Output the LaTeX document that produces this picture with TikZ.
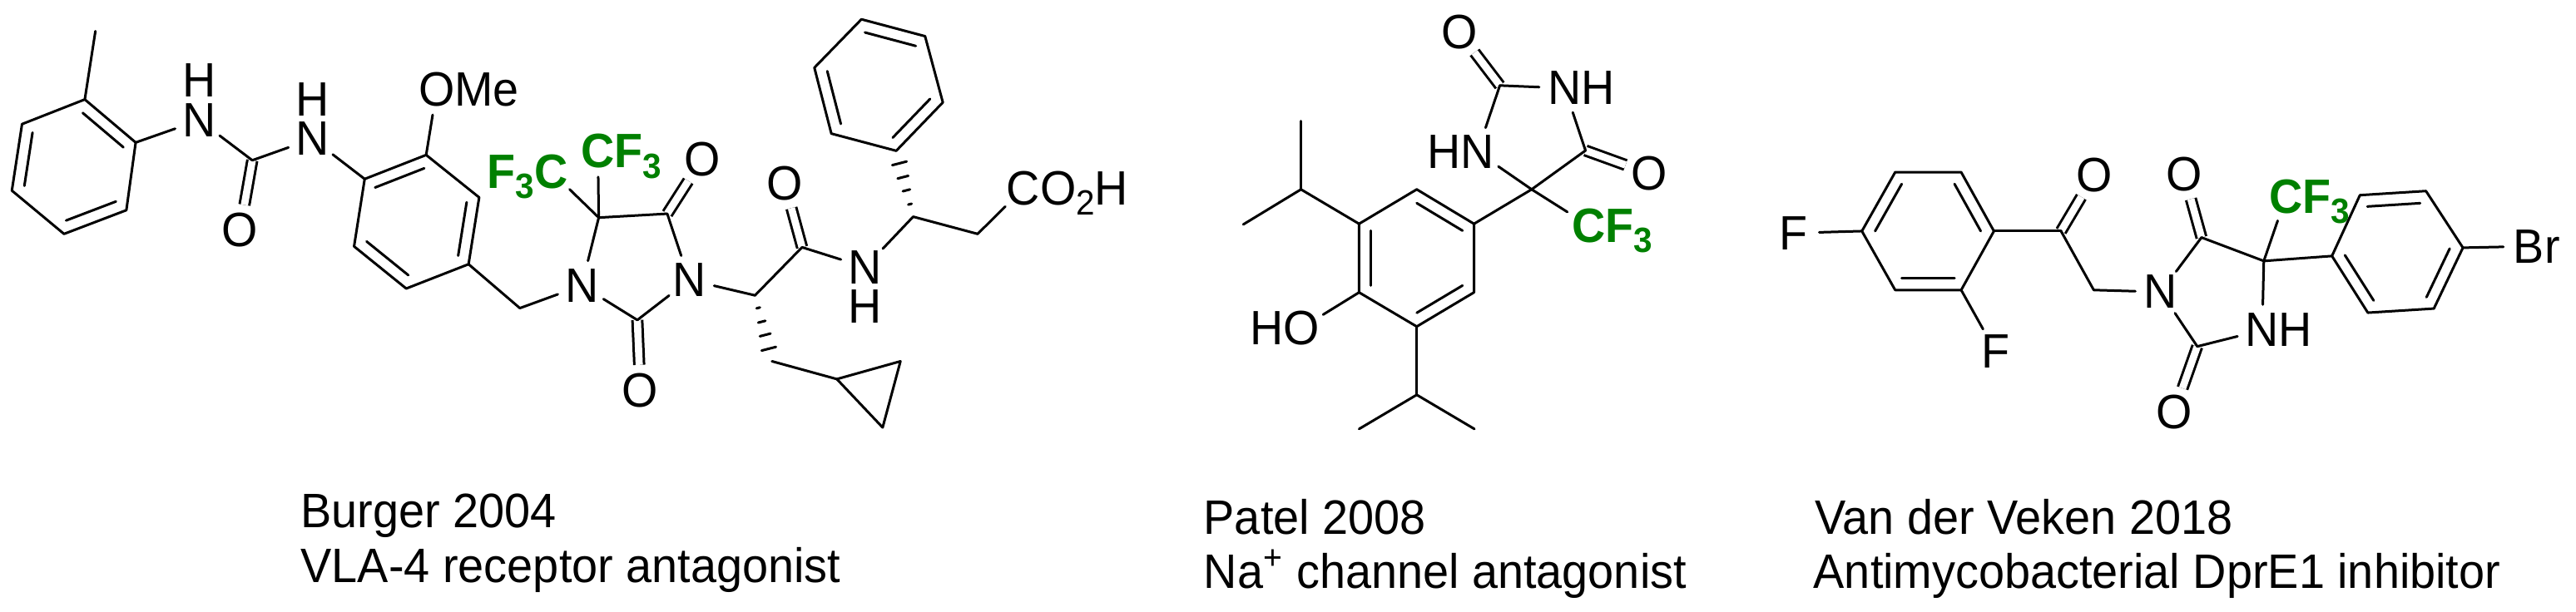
\documentclass[tikz,border=0pt]{standalone}
\usepackage{fontspec}
\setmainfont[FakeStretch=0.96]{Liberation Sans}
\usetikzlibrary{calc}
\definecolor{cfgreen}{RGB}{0,128,0}
\newcommand{\subnum}[1]{\raisebox{-3.5pt}{\fontsize{12pt}{12pt}\selectfont #1}}
\newcommand{\hover}[1]{#1\llap{\smash{\raisebox{13.5pt}{H}}}}
\newcommand{\aromring}[6]{%
  \coordinate (ctr#1) at ($(#1)!.5!(#4)$);
  \draw[bond] (#1)--(#2)--(#3)--(#4)--(#5)--(#6)--cycle;
  \draw[bond] ($(#1)!.2!(ctr#1)$) -- ($(#2)!.2!(ctr#1)$);
  \draw[bond] ($(#3)!.2!(ctr#1)$) -- ($(#4)!.2!(ctr#1)$);
  \draw[bond] ($(#5)!.2!(ctr#1)$) -- ($(#6)!.2!(ctr#1)$);
}
\newcommand{\hashbond}[2]{%
  \foreach \t in {.19,.40,.60,.81}{
    \draw[bond] ($(#1)!\t!(#2)!{\t*3.13pt}!90:(#2)$) -- ($(#1)!\t!(#2)!{\t*3.13pt}!-90:(#2)$);
  }%
}
\tikzset{
  bond/.style={line width=0.03cm,line cap=round,line join=round,black},
  dbond/.style={line width=0.03cm,line cap=butt,double=white,double distance=0.087cm,black},
  atom/.style={circle,inner sep=0pt,minimum size=0.6cm,text height=11.3pt,text depth=0pt,
    font=\fontsize{16.5pt}{18pt}\selectfont,text=black},
  atomg/.style={atom,font=\fontsize{16.5pt}{18pt}\selectfont\bfseries,text=cfgreen},
  caption/.style={anchor=base west,inner sep=0pt,font=\fontsize{16.55pt}{18pt}\selectfont,text=black},
  zoomwide/.style={x=0.005102cm,y=-0.003571cm},
  zoomlast/.style={x=0.006353cm,y=-0.003333cm},
}
\begin{document}
\begin{tikzpicture}
\useasboundingbox (0,0) rectangle (30.96,-7.36);
\fill[white] (0,0) rectangle (30.96,-7.36);

% ---------- molecule 1, left part
\begin{scope}[shift={(0cm,0cm)},zoomwide]
\coordinate (a1) at (200,335); \coordinate (a2) at (320,480); \coordinate (a3) at (298,708);
\coordinate (a4) at (151,788); \coordinate (a5) at (28,642); \coordinate (a6) at (52,418);
\coordinate (me) at (225,105);
\coordinate (cu) at (595,540);
\coordinate (b1) at (860,603); \coordinate (b2) at (1005,522); \coordinate (b3) at (1130,665);
\coordinate (b4) at (1105,890); \coordinate (b5) at (958,972); \coordinate (b6) at (835,830);
\coordinate (d) at (1226,1038);
\coordinate (q) at (1412,733);
\coordinate (c2) at (1503,1078);
\node[atom] (N1) at (470,405) {\hover{N}};
\node[atom] (N2) at (737,468) {\hover{N}};
\node[atom] (O1) at (566,775) {O};
\node[atom] (OMe) at (1030,302) {O\rlap{Me}};
\node[atom] (N3) at (1372,962) {N};
\node[atom] (O2) at (1510,1315) {O};
\node[atomg] (CFa) at (1300,578) {\llap{\smash{F\subnum{3}}}C};
\node[atomg] (CFb) at (1410,510) {C\rlap{\smash{F\subnum{3}}}};
\end{scope}

% ---------- molecule 1, right part
\begin{scope}[shift={(7cm,0cm)},zoomwide]
\coordinate (c4) at (200,720);
\coordinate (al) at (407,995);
\coordinate (am) at (518,833);
\coordinate (ch) at (780,730);
\coordinate (chb) at (932,788);
\coordinate (p1) at (740,508); \coordinate (p2) at (850,345); \coordinate (p3) at (808,122);
\coordinate (p4) at (658,65); \coordinate (p5) at (547,228); \coordinate (p6) at (587,450);
\coordinate (cpm) at (447,1217);
\coordinate (cp1) at (600,1277); \coordinate (cp2) at (750,1217); \coordinate (cp3) at (708,1440);
\node[atom] (O3) at (282,537) {O};
\node[atom] (N4) at (252,943) {N};
\node[atom] (O4) at (477,618) {O};
\node[atom] (N5) at (667,900) {N\llap{\smash{\raisebox{-13.4pt}{H}}}};
\node[atom] (COOH) at (1040,635) {C\rlap{\smash{O\subnum{2}H}}};
\end{scope}

% ---------- molecule 2
\begin{scope}[shift={(14cm,0cm)},zoomwide]
\coordinate (r1) at (594,638); \coordinate (r2) at (729,754); \coordinate (r3) at (729,985);
\coordinate (r4) at (594,1100); \coordinate (r5) at (458,985); \coordinate (r6) at (458,754);
\coordinate (ipa) at (321,638); \coordinate (ipb) at (321,408); \coordinate (ipc) at (185,756);
\coordinate (ipd) at (594,1330); \coordinate (ipe) at (458,1445); \coordinate (ipf) at (730,1445);
\coordinate (qb) at (865,638);
\coordinate (cf) at (992,507);
\coordinate (cg) at (790,288);
\node[atom] (OH) at (322,1105) {\llap{H}O};
\node[atomg] (CFc) at (1000,760) {C\rlap{\smash{F\subnum{3}}}};
\node[atom] (N6) at (737,512) {\llap{H}N};
\node[atom] (N7) at (943,297) {N\rlap{H}};
\node[atom] (O5) at (1143,585) {O};
\node[atom] (O6) at (694,108) {O};
\end{scope}

% ---------- molecule 3
\begin{scope}[shift={(21cm,-1cm)},zoomlast]
\coordinate (f1) at (217,535); \coordinate (f2) at (280,322); \coordinate (f3) at (405,322);
\coordinate (f4) at (467,535); \coordinate (f5) at (405,748); \coordinate (f6) at (280,748);
\coordinate (ke) at (594,535);
\coordinate (mt) at (656,748);
\coordinate (ch4) at (860,558);
\coordinate (qc) at (978,643);
\coordinate (ch2) at (852,952);
\coordinate (g1) at (1107,625); \coordinate (g2) at (1160,405); \coordinate (g3) at (1285,390);
\coordinate (g4) at (1355,595); \coordinate (g5) at (1300,815); \coordinate (g6) at (1175,830);
\node[atom] (F1) at (88,542) {F};
\node[atom] (F2) at (470,970) {F};
\node[atom] (O7) at (657,332) {O};
\node[atom] (N8) at (783,755) {N};
\node[atom] (O8) at (827,330) {O};
\node[atom] (N9) at (975,893) {N\rlap{H}};
\node[atom] (O9) at (808,1190) {O};
\node[atomg] (CFd) at (1020,410) {C\rlap{\smash{F\subnum{3}}}};
\node[atom] (Br) at (1480,590) {B\rlap{r}};
\end{scope}

% ---------- double bonds first: single bonds sit on top of their ends
\foreach \u/\v in {cu/O1,c2/O2,c4/O3,am/O4,cf/O5,cg/O6,ke/O7,ch4/O8,ch2/O9}{
  \draw[dbond] (\u) -- (\v);
}

% ---------- rings
\aromring{a1}{a2}{a3}{a4}{a5}{a6}
\aromring{b1}{b2}{b3}{b4}{b5}{b6}
\aromring{p1}{p2}{p3}{p4}{p5}{p6}
\aromring{r1}{r2}{r3}{r4}{r5}{r6}
\aromring{f1}{f2}{f3}{f4}{f5}{f6}
\aromring{g2}{g3}{g4}{g5}{g6}{g1}
\draw[bond] (cp1)--(cp2)--(cp3)--cycle;

% ---------- single bonds
\foreach \u/\v in {me/a1,a2/N1,N1/cu,cu/N2,N2/b1,b2/OMe,b4/d,d/N3,N3/q,q/CFa,q/CFb,N3/c2,c2/N4,q/c4,c4/N4,
  N4/al,al/am,am/N5,N5/ch,ch/chb,chb/COOH,cpm/cp1,
  r6/ipa,ipa/ipb,ipa/ipc,r4/ipd,ipd/ipe,ipd/ipf,r5/OH,r2/qb,qb/CFc,qb/N6,qb/cf,cf/N7,N7/cg,cg/N6,
  F1/f1,f5/F2,f4/ke,ke/mt,mt/N8,N8/ch4,ch4/qc,qc/CFd,qc/N9,qc/g1,N9/ch2,ch2/N8,g4/Br}{
  \draw[bond] (\u) -- (\v);
}

% ---------- hashed stereo bonds
\hashbond{ch}{p1}
\hashbond{al}{cpm}

% ---------- captions
\node[caption] (capa) at (3.61,-6.34) {Burger 2004};
\node[caption] (capb) at (3.61,-7.007) {VLA-4 receptor antagonist};
\node[caption] (capc) at (14.46,-6.42) {Patel 2008};
\node[caption] (capd) at (14.46,-7.07) {Na\textsuperscript{+} channel antagonist};
\node[caption] (cape) at (21.81,-6.42) {Van der Veken 2018};
\node[caption] (capf) at (21.79,-7.07) {Antimycobacterial DprE1 inhibitor};
\end{tikzpicture}
\end{document}
